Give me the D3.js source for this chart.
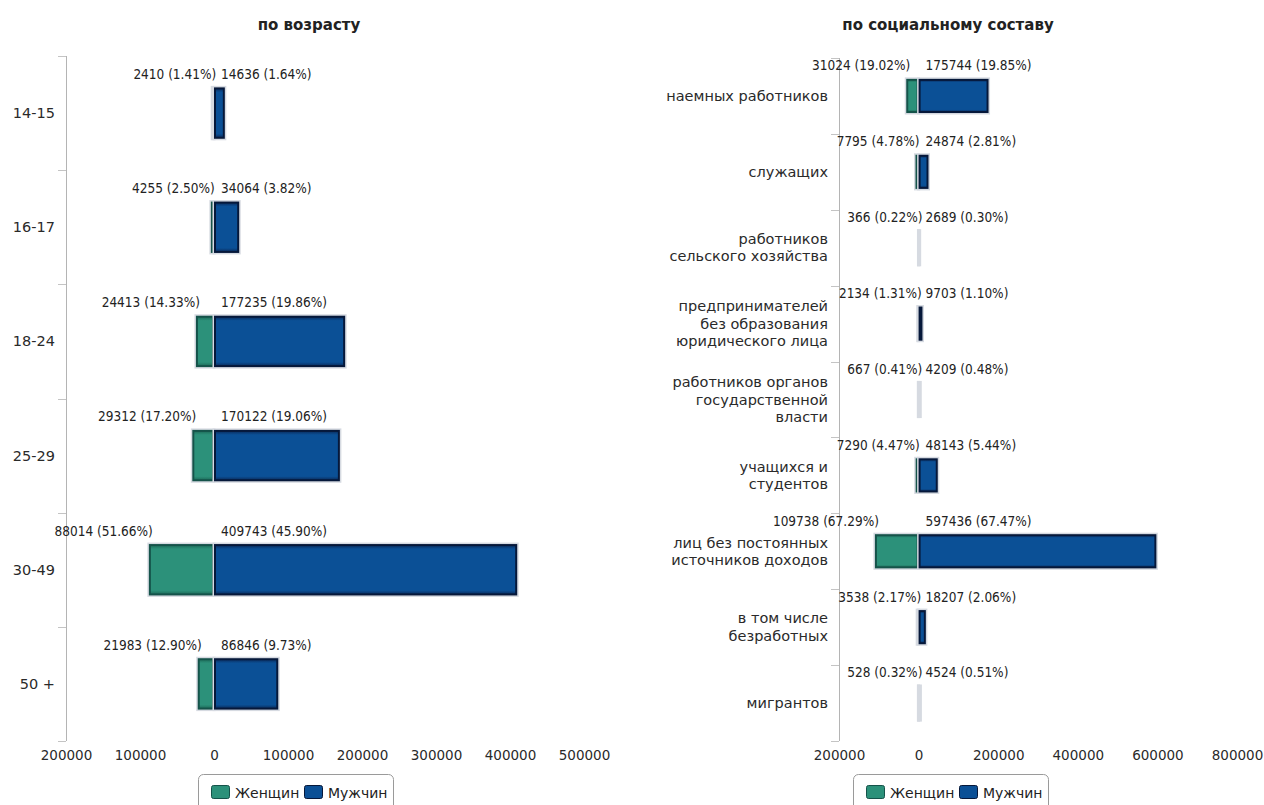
<!DOCTYPE html>
<html>
<head>
<meta charset="utf-8">
<script src="https://cdn.jsdelivr.net/npm/d3@7"></script>
<style>
  html, body { margin: 0; padding: 0; background: #ffffff; }
  svg { display: block; }
  .title { font-family: "DejaVu Sans", Verdana, sans-serif; font-weight: bold; font-size: 15px; fill: #222; }
  .cat { font-family: "DejaVu Sans", Verdana, sans-serif; font-size: 14.5px; fill: #2a2a2a; }
  .tick text { font-family: "DejaVu Sans", Verdana, sans-serif; font-size: 13.5px; fill: #2a2a2a; }
  .dl { font-family: "DejaVu Sans Condensed", "DejaVu Sans", sans-serif; font-stretch: condensed; font-size: 13.5px; fill: #222; }
  .lg { font-family: "DejaVu Sans", Verdana, sans-serif; font-size: 14px; fill: #222; }
</style>
</head>
<body>
<svg id="chart" width="1264" height="805"></svg>
<script>
// ---------- data ----------
const ageTitle = "по возрасту";
const ageCategories = ["14-15", "16-17", "18-24", "25-29", "30-49", "50 +"];
const ageWomen = [2410, 4255, 24413, 29312, 88014, 21983];
const ageWomenPct = ["1.41", "2.50", "14.33", "17.20", "51.66", "12.90"];
const ageMen = [14636, 34064, 177235, 170122, 409743, 86846];
const ageMenPct = ["1.64", "3.82", "19.86", "19.06", "45.90", "9.73"];
const ageTicks = [-200000, -100000, 0, 100000, 200000, 300000, 400000, 500000];

const socialTitle = "по социальному составу";
const socialCategories = [
  ["наемных работников"],
  ["служащих"],
  ["работников", "сельского хозяйства"],
  ["предпринимателей", "без образования", "юридического лица"],
  ["работников органов", "государственной", "власти"],
  ["учащихся и", "студентов"],
  ["лиц без постоянных", "источников доходов"],
  ["в том числе", "безработных"],
  ["мигрантов"]
];
const socialWomen = [31024, 7795, 366, 2134, 667, 7290, 109738, 3538, 528];
const socialWomenPct = ["19.02", "4.78", "0.22", "1.31", "0.41", "4.47", "67.29", "2.17", "0.32"];
const socialMen = [175744, 24874, 2689, 9703, 4209, 48143, 597436, 18207, 4524];
const socialMenPct = ["19.85", "2.81", "0.30", "1.10", "0.48", "5.44", "67.47", "2.06", "0.51"];
const socialTicks = [-200000, 0, 200000, 400000, 600000, 800000];

const seriesNames = ["Женщин", "Мужчин"];

// ---------- drawing ----------
const svg = d3.select("#chart");
const defs = svg.append("defs");

function grad(id, edge, mid) {
  const g = defs.append("linearGradient").attr("id", id)
    .attr("x1", 0).attr("y1", 0).attr("x2", 0).attr("y2", 1);
  g.append("stop").attr("offset", "0%").attr("stop-color", edge);
  g.append("stop").attr("offset", "8%").attr("stop-color", mid);
  g.append("stop").attr("offset", "92%").attr("stop-color", mid);
  g.append("stop").attr("offset", "100%").attr("stop-color", edge);
}
grad("gMen", "#0a2a5a", "#0b5096");
grad("gWomen", "#1d6a58", "#2c917a");

const colors = {
  women: { fill: "url(#gWomen)", stroke: "#15534a" },
  men: { fill: "url(#gMen)", stroke: "#06183a" }
};

function panel(cfg) {
  const g = svg.append("g");
  const cats = cfg.categories.map((c, i) => i);
  const x = d3.scaleLinear().domain(cfg.domain).range(cfg.xRange);
  const y = d3.scaleBand().domain(cats).range(cfg.yRange).padding(0);
  const bh = y.bandwidth() * 0.45;

  // title
  g.append("text").attr("class", "title")
    .attr("x", cfg.titleX).attr("y", 30)
    .attr("text-anchor", "middle").text(cfg.title);

  // y axis line and band boundary ticks
  const x0axis = x(cfg.domain[0]);
  g.append("line")
    .attr("x1", x0axis + 0.5).attr("x2", x0axis + 0.5)
    .attr("y1", cfg.yRange[0]).attr("y2", cfg.yRange[1])
    .attr("stroke", "#b4b4b4").attr("stroke-width", 1);
  const bounds = cats.map(i => y(i)).concat([y(cats[cats.length - 1]) + y.step()]);
  g.selectAll("line.bt").data(bounds).enter().append("line")
    .attr("x1", x0axis - 8).attr("x2", x0axis)
    .attr("y1", d => Math.round(d) + 0.5).attr("y2", d => Math.round(d) + 0.5)
    .attr("stroke", "#c4c4c4");

  // category labels
  cats.forEach(i => {
    const lines = Array.isArray(cfg.categories[i]) ? cfg.categories[i] : [cfg.categories[i]];
    const cy = y(i) + y.bandwidth() / 2;
    const lh = 17.5;
    const t = g.append("text").attr("class", "cat").attr("text-anchor", "end");
    lines.forEach((ln, k) => {
      t.append("tspan").attr("x", x0axis - 11)
        .attr("y", cy + (k - (lines.length - 1) / 2) * lh + 5)
        .text(ln);
    });
  });

  // x axis
  const ax = d3.axisBottom(x).tickValues(cfg.ticks)
    .tickFormat(d => String(Math.abs(d))).tickSize(0).tickPadding(0);
  const axg = g.append("g").attr("transform", `translate(0,${cfg.yRange[1] + 7})`).call(ax);
  axg.select(".domain").remove();
  axg.selectAll("text").attr("dy", "0.9em");

  // bars
  function bar(x1, x2, yy, c) {
    const w = Math.max(0, x2 - x1);
    g.append("rect").attr("x", x1 - 1.5).attr("y", yy - 1.5)
      .attr("width", w + 3).attr("height", bh + 3)
      .attr("fill", "#d6dae1");
    if (w >= 1) {
      g.append("rect").attr("x", x1 + 1).attr("y", yy + 1)
        .attr("width", Math.max(0, w - 2)).attr("height", bh - 2)
        .attr("fill", c.fill).attr("stroke", c.stroke).attr("stroke-width", 2);
    }
  }
  cats.forEach(i => {
    const yy = y(i) + (y.bandwidth() - bh) / 2;
    bar(x(-cfg.women[i]), x(0), yy, colors.women);
    bar(x(0), x(cfg.men[i]), yy, colors.men);
  });

  // data labels
  cats.forEach(i => {
    const yy = y(i) + (y.bandwidth() - bh) / 2 - 8.5;
    const wEnd = x(-cfg.women[i]) + 4;
    g.append("text").attr("class", "dl").attr("text-anchor", "end")
      .attr("x", wEnd).attr("y", yy)
      .text(`${cfg.women[i]} (${cfg.womenPct[i]}%)`);
    const mStart = Math.max(x(0) + 7, wEnd + 2);
    g.append("text").attr("class", "dl").attr("text-anchor", "start")
      .attr("x", mStart).attr("y", yy)
      .text(`${cfg.men[i]} (${cfg.menPct[i]}%)`);
  });

  // legend
  const lx = cfg.legendX, ly = 774;
  const lg = g.append("g");
  lg.append("rect").attr("x", lx + 0.5).attr("y", ly + 0.5)
    .attr("width", 195).attr("height", 40).attr("rx", 5)
    .attr("fill", "#fff").attr("stroke", "#9a9a9a");
  const items = [
    { name: seriesNames[0], c: colors.women, off: 13 },
    { name: seriesNames[1], c: colors.men, off: 106 }
  ];
  items.forEach(it => {
    lg.append("rect").attr("x", lx + it.off + 0.5).attr("y", ly + 11.5)
      .attr("width", 18).attr("height", 13).attr("rx", 2)
      .attr("fill", it.c.fill).attr("stroke", it.c.stroke);
    lg.append("text").attr("class", "lg")
      .attr("x", lx + it.off + 24).attr("y", ly + 23.5).text(it.name);
  });
}

panel({
  title: ageTitle, titleX: 309,
  categories: ageCategories,
  women: ageWomen, womenPct: ageWomenPct,
  men: ageMen, menPct: ageMenPct,
  ticks: ageTicks,
  domain: [-200000, 500000], xRange: [66, 584],
  yRange: [56, 741],
  legendX: 198
});

panel({
  title: socialTitle, titleX: 948,
  categories: socialCategories,
  women: socialWomen, womenPct: socialWomenPct,
  men: socialMen, menPct: socialMenPct,
  ticks: socialTicks,
  domain: [-200000, 800000], xRange: [839, 1237],
  yRange: [58, 741],
  legendX: 853
});
</script>
</body>
</html>
